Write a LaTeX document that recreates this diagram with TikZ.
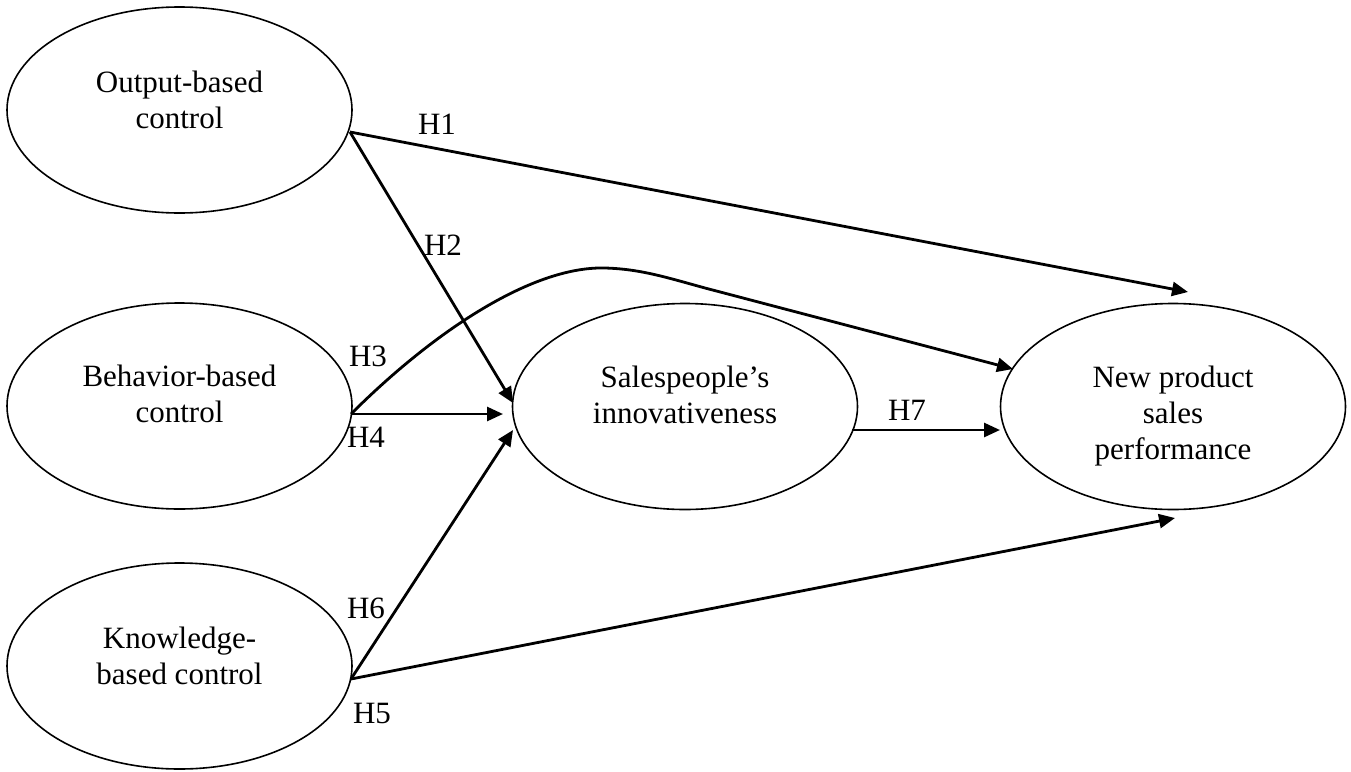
\documentclass[tikz,border=0pt]{standalone}
\usepackage{fontspec}
\setmainfont{Liberation Serif}
\usetikzlibrary{arrows.meta,calc,shapes.geometric}
\begin{document}
\begin{tikzpicture}[x=1pt,y=-1pt,
  ell/.style={draw,ellipse,line width=1.6pt,minimum width=345pt,minimum height=206pt,inner sep=0pt},
  txt/.style={anchor=north,align=center,inner sep=0pt,font=\fontsize{31}{36}\selectfont},
  hlab/.style={inner sep=0pt,font=\fontsize{31}{36}\selectfont},
  arr/.style={line width=2.8pt,-{Triangle[length=16pt,width=14pt]}}]
\useasboundingbox (0,0) rectangle (1351,771);
% ellipses
\node[ell] (e1) at (179.5,110) {};
\node[ell] (e2) at (179.5,406) {};
\node[ell] (e3) at (179.5,666) {};
\node[ell] (e4) at (685,406.5) {};
\node[ell] (e5) at (1173,406.5) {};
% texts
\node[txt] (t1) at ($(e1.center)+(0,-39)$) {Output-based\\control};
\node[txt] (t2) at ($(e2.center)+(0,-41)$) {Behavior-based\\control};
\node[txt] (t3) at ($(e3.center)+(0,-39)$) {Knowledge-\\based control};
\node[txt] (t4) at ($(e4.center)+(0,-41)$) {Salespeople’s\\innovativeness};
\node[txt] (t5) at ($(e5.center)+(0,-41)$) {New product\\sales\\performance};
% start points
\coordinate (s1) at ($(e1.center)+(170.5,22)$);
\coordinate (s2) at ($(e2.center)+(171.5,8)$);
\coordinate (s3) at ($(e3.center)+(171.5,13)$);
\coordinate (s4) at ($(e4.center)+(167,23.5)$);
% tips
\coordinate (p1) at (1188,292);
\coordinate (p2) at (513,403);
\coordinate (p3) at (1013,369);
\coordinate (p4) at (503,414);
\coordinate (p5) at (1175,518);
\coordinate (p6) at (513,430);
\coordinate (p7) at (1000,430);
% connectors
\draw[arr] (s1) -- (p1);
\draw[arr] (s1) -- (p2);
\draw[arr] (s2) .. controls (430,335) and (530,266) .. (605,268)
                .. controls (640,269) and (665,277) .. (705,288) -- (p3);
\draw[arr] (s2) -- (p4);
\draw[arr] (s3) -- (p5);
\draw[arr] (s3) -- (p6);
\draw[arr] (s4) -- (p7);
% labels
\node[hlab] (h1) at (437,124) {H1};
\node[hlab] (h2) at (443,245) {H2};
\node[hlab] (h3) at (368,356) {H3};
\node[hlab] (h4) at (366,437) {H4};
\node[hlab] (h5) at (372,713) {H5};
\node[hlab] (h6) at (366,608) {H6};
\node[hlab] (h7) at (907,410) {H7};
\end{tikzpicture}
\end{document}
